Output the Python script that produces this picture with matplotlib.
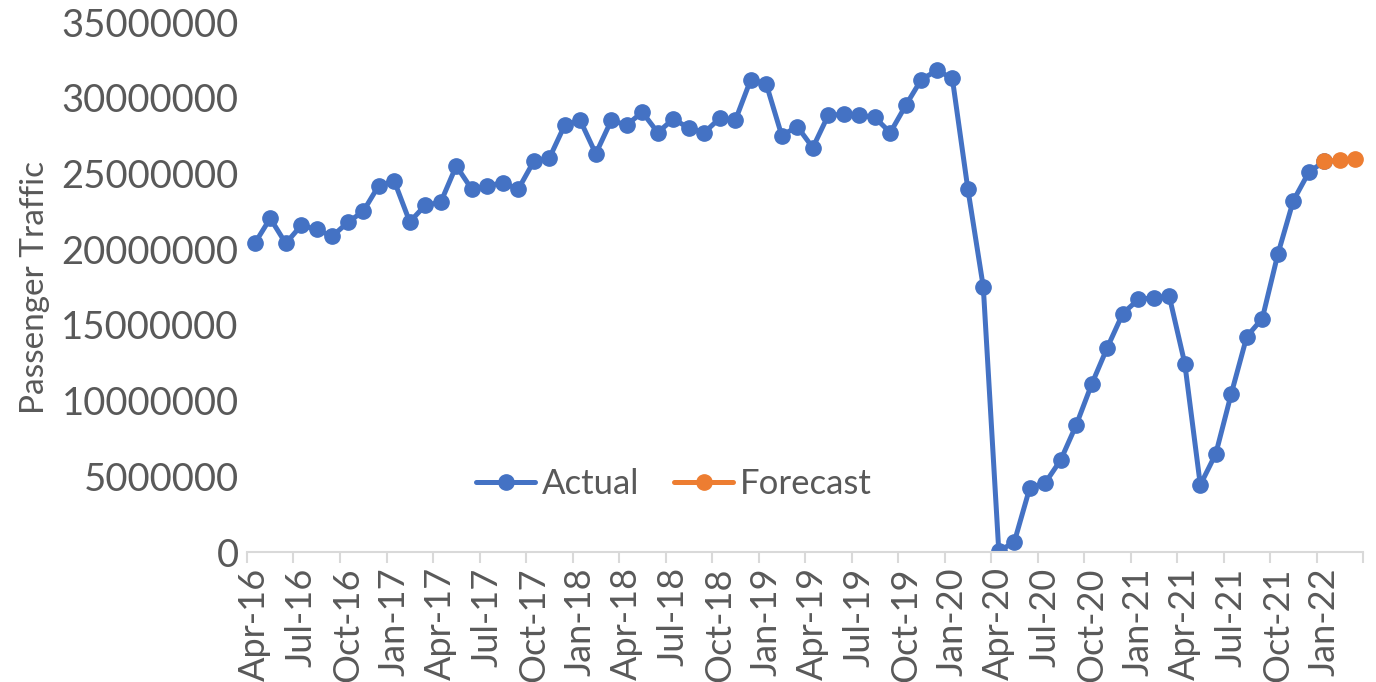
import pandas as pd
import matplotlib.pyplot as plt
from matplotlib.ticker import FixedLocator, NullFormatter

plt.rcParams["font.family"] = ["Lato", "DejaVu Sans"]

# Monthly passenger traffic, Apr-16 .. Mar-22
months = pd.date_range("2016-04-01", "2022-03-01", freq="MS")
actual = [
    20.38, 22.04, 20.38, 21.57, 21.30, 20.85, 21.77, 22.50, 24.20, 24.50, 21.80, 22.90,
    23.10, 25.50, 23.96, 24.16, 24.40, 23.96, 25.80, 26.00, 28.20, 28.50, 26.30, 28.50,
    28.20, 29.05, 27.70, 28.60, 28.00, 27.70, 28.65, 28.50, 31.20, 30.90, 27.50, 28.10,
    26.70, 28.85, 28.90, 28.85, 28.70, 27.70, 29.50, 31.20, 31.80, 31.30, 24.00, 17.50,
    0.05, 0.66, 4.24, 4.57, 6.09, 8.40, 11.10, 13.50, 15.75, 16.68, 16.80, 16.88,
    12.44, 4.43, 6.49, 10.46, 14.23, 15.42, 19.66, 23.20, 25.08, 25.80,
]
forecast = [25.80, 25.88, 25.94]

actual = [v * 1e6 for v in actual]
forecast = [v * 1e6 for v in forecast]
labels = [d.strftime("%b-%y") for d in months]

BLUE = "#4472C4"
ORANGE = "#ED7D31"
GREY = "#595959"
AXIS = "#D9D9D9"

fig = plt.figure(figsize=(13.76, 6.82), dpi=100)
ax = fig.add_axes([0.1795, 0.1906, 0.8111, 0.7771])

x_act = list(range(len(actual)))
x_fc = list(range(len(months) - len(forecast), len(months)))

ax.plot(x_act, actual, color=BLUE, lw=3.6, marker="o", ms=11,
        solid_capstyle="round", label="Actual")
ax.plot(x_fc, forecast, color=ORANGE, lw=3.6, marker="o", ms=11,
        solid_capstyle="round", label="Forecast")

ax.set_xlim(-0.5, len(months) - 0.5)
ax.set_ylim(0, 35000000)
ax.set_yticks(range(0, 35000001, 5000000))
ax.yaxis.set_major_formatter(plt.FuncFormatter(lambda v, p: f"{int(v)}"))

# labels every quarter, tick marks on category boundaries
ax.set_xticks(x_act[::3][:24])
ax.set_xticklabels(labels[::3], rotation=90)
ax.xaxis.set_minor_locator(FixedLocator([i - 0.5 for i in range(0, len(months) + 1, 3)]))
ax.xaxis.set_minor_formatter(NullFormatter())

ax.tick_params(axis="x", which="major", length=0, pad=11, labelsize=26, labelcolor=GREY)
ax.tick_params(axis="x", which="minor", length=8, width=1.5, color=AXIS)
ax.tick_params(axis="y", length=0, pad=6, labelsize=27.5, labelcolor=GREY)

for side in ["top", "right", "left"]:
    ax.spines[side].set_visible(False)
ax.spines["bottom"].set_color(AXIS)
ax.spines["bottom"].set_linewidth(1.5)

ax.set_ylabel("Passenger Traffic", fontsize=24, color=GREY, labelpad=8)

ax.legend(loc="center", bbox_to_anchor=(0.49, 0.29), bbox_transform=fig.transFigure,
          ncol=2, frameon=False, fontsize=25, labelcolor=GREY,
          handlelength=1.7, columnspacing=1.0, handletextpad=0.2)

fig.savefig("out.png", dpi=100)
